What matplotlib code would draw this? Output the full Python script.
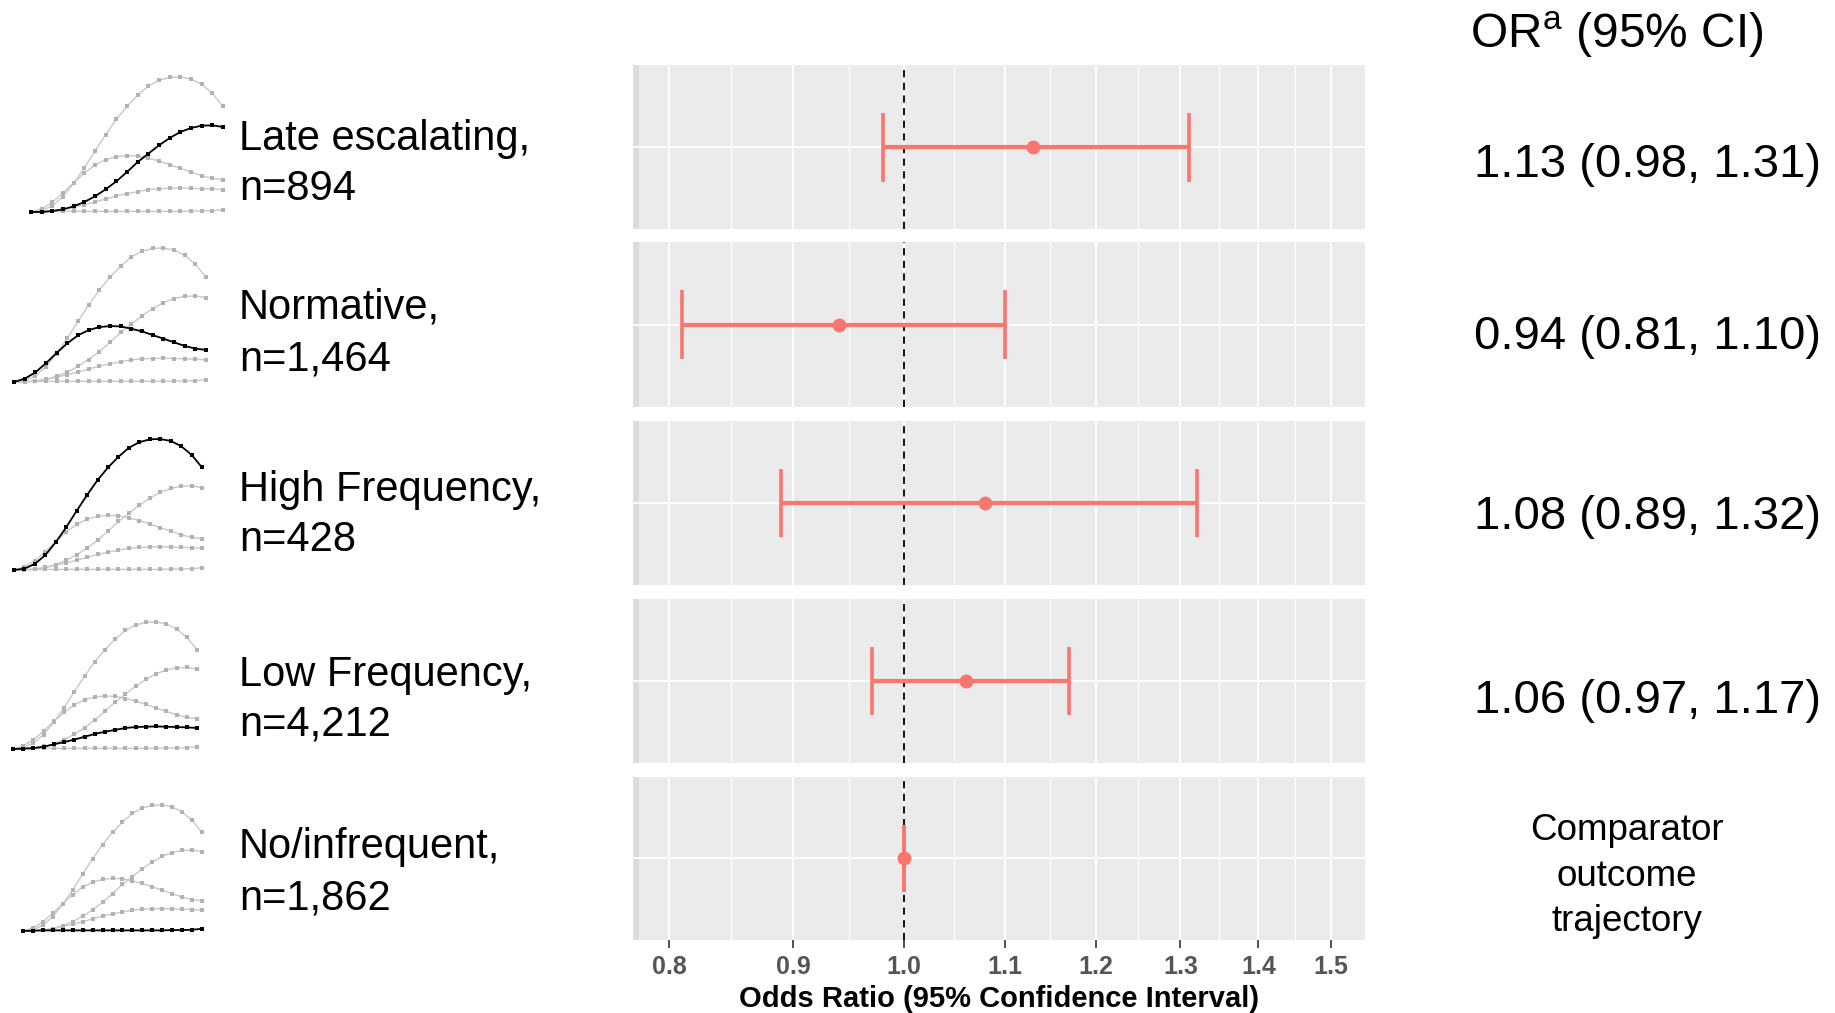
import matplotlib
matplotlib.use("Agg")
import matplotlib.pyplot as plt
import numpy as np

# ---------------- data ----------------
groups = ["Late escalating,", "Normative,", "High Frequency,", "Low Frequency,", "No/infrequent,"]
group_n = ["n=894", "n=1,464", "n=428", "n=4,212", "n=1,862"]
or_est = [1.13, 0.94, 1.08, 1.06, 1.00]
ci_low = [0.98, 0.81, 0.89, 0.97, 1.00]
ci_high = [1.31, 1.10, 1.32, 1.17, 1.00]
or_text = ["1.13 (0.98, 1.31)", "0.94 (0.81, 1.10)", "1.08 (0.89, 1.32)", "1.06 (0.97, 1.17)"]
comparator_text = "Comparator\noutcome\ntrajectory"
x_ticks = [0.8, 0.9, 1.0, 1.1, 1.2, 1.3, 1.4, 1.5]
x_tick_labels = ["0.8", "0.9", "1.0", "1.1", "1.2", "1.3", "1.4", "1.5"]
x_label = "Odds Ratio (95% Confidence Interval)"
header = r"OR$^{\mathrm{a}}$ (95% CI)"

# trajectory thumbnails (relative frequency over 19 time points)
traj_high = [0, 4, 19, 46, 86, 132, 183, 232, 278, 317, 350, 378, 395, 404, 405, 399, 383, 356, 317]
traj_late = [0, 0, 3, 8, 17, 30, 47, 68, 92, 120, 150, 175, 200, 222, 240, 252, 259, 260, 255]
traj_norm = [0, 10, 29, 57, 88, 117, 141, 157, 166, 169, 168, 161, 153, 142, 131, 120, 109, 101, 97]
traj_low = [0, 1, 3, 7, 15, 22, 30, 39, 48, 55, 61, 67, 70, 71, 72, 71, 70, 69, 67]
traj_none = [0, 1, 2, 2, 2, 2, 2, 2, 2, 2, 2, 2, 2, 2, 2, 3, 3, 4, 7]
trajectories = [traj_late, traj_norm, traj_high, traj_low, traj_none]  # same order as groups

# ---------------- layout ----------------
W, H = 1835, 1013
DPI = 100
plt.rcParams['font.family'] = ['Liberation Sans', 'DejaVu Sans']
plt.rcParams['mathtext.fontset'] = 'custom'
plt.rcParams['mathtext.rm'] = 'Liberation Sans'

fig = plt.figure(figsize=(W / DPI, H / DPI), dpi=DPI)
fig.patch.set_facecolor('white')


def px_axes(x0, y0, x1, y1):
    return fig.add_axes([x0 / W, 1 - y1 / H, (x1 - x0) / W, (y1 - y0) / H])


def ftext(x, y, s, **kw):
    return fig.text(x / W, 1 - y / H, s, **kw)


panel_x = (633, 1365)
panel_tops = [65.5, 242.2, 421.3, 599.2, 777.1]
panel_bots = [229.4, 407.3, 585.2, 763.0, 939.8]

RED = '#F8766D'
BG = '#EBEBEB'
xlim = (0.773, 1.549)
minor = [np.sqrt(a * b) for a, b in zip(x_ticks[:-1], x_ticks[1:])] + [np.sqrt(1.5 * 1.6)]
NARROW = ['Liberation Sans Narrow', 'Liberation Sans']

for i in range(5):
    ax = px_axes(panel_x[0], panel_tops[i], panel_x[1], panel_bots[i])
    ax.set_facecolor(BG)
    ax.set_xscale('log')
    ax.set_xlim(*xlim)
    ax.set_ylim(0.4, 1.6)
    for s in ax.spines.values():
        s.set_visible(False)
    ax.set_yticks([])
    for m in minor:
        ax.axvline(m, color='white', lw=0.8, zorder=0.5)
    for t in x_ticks:
        ax.axvline(t, color='white', lw=1.3, zorder=0.6)
    ax.axhline(1.0, color='white', lw=1.3, zorder=0.6)
    ax.axvline(1.0, color='black', lw=1.3, ls=(0, (4, 3)), zorder=2)
    ax.plot([ci_low[i], ci_high[i]], [1, 1], color=RED, lw=3.0, solid_capstyle='butt', zorder=3)
    ax.plot([ci_low[i], ci_low[i]], [0.75, 1.25], color=RED, lw=2.6, solid_capstyle='butt', zorder=3)
    ax.plot([ci_high[i], ci_high[i]], [0.75, 1.25], color=RED, lw=2.6, solid_capstyle='butt', zorder=3)
    ax.plot([or_est[i]], [1], 'o', color=RED, ms=10, mew=0, zorder=4)
    ax.xaxis.set_minor_locator(matplotlib.ticker.NullLocator())
    ax.xaxis.set_minor_formatter(matplotlib.ticker.NullFormatter())
    ax.set_xticks(x_ticks)
    if i == 4:
        ax.set_xticklabels(x_tick_labels, family=NARROW, fontsize=18, fontweight='bold', color='#555555')
        ax.tick_params(axis='x', length=6, width=1.2, color='#333333', pad=5)
        ax.set_xlabel(x_label, family=NARROW, fontsize=21, fontweight='bold', labelpad=4)
    else:
        ax.tick_params(axis='x', length=0, labelbottom=False)
    # slightly darker left strip
    ax.axvspan(xlim[0], xlim[0] * 1.006, color='#DCDCDC', lw=0, zorder=0.4)

# ---------------- thumbnails ----------------
thumb_boxes = [(31, 77, 223, 212), (14, 248, 206, 382), (14, 439, 202, 570),
               (13, 622, 197, 749), (23, 805, 202, 931)]
GRAY = '#C8C8C8'
for i, (x0, y0, x1, y1) in enumerate(thumb_boxes):
    ax = px_axes(x0, y0, x1, y1)
    ax.set_xlim(0, 18)
    ax.set_ylim(0, 405)
    ax.axis('off')
    xs = np.arange(19)
    for j, tr in enumerate(trajectories):
        if j == i:
            continue
        ax.plot(xs, tr, color=GRAY, lw=1.0, marker='s', ms=2.6, mew=0, mfc='#B2B2B2', clip_on=False)
    ax.plot(xs, trajectories[i], color='black', lw=1.3, marker='s', ms=2.6, mew=0, clip_on=False, zorder=5)

# ---------------- left labels ----------------
left_y = [(139, 189), (308, 359), (490, 540), (675, 724), (847, 898)]
for i in range(5):
    ftext(239, left_y[i][0], groups[i], fontsize=30, va='center', ha='left')
    ftext(239, left_y[i][1], group_n[i], fontsize=30, va='center', ha='left')

# ---------------- right labels ----------------
right_y = [165, 337, 517, 701]
for i, s in enumerate(or_text):
    ftext(1474, right_y[i], s, fontsize=34, va='center', ha='left')
ftext(1627, 876, comparator_text, fontsize=26.5, va='center', ha='center', linespacing=1.4)
ftext(1470, 35, header, fontsize=34.5, va='center', ha='left')

fig.savefig('out.png', dpi=DPI, facecolor='white')
